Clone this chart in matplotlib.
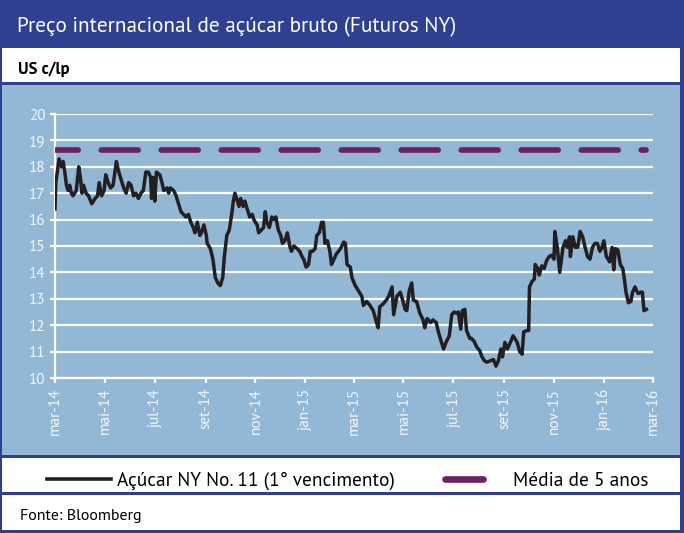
import matplotlib
matplotlib.use("Agg")
import matplotlib.pyplot as plt
from matplotlib.patches import Rectangle
from matplotlib.lines import Line2D
import pandas as pd

# ---------------- data ----------------
title = "Preço internacional de açúcar bruto (Futuros NY)"
unit_label = "US c/lp"
source_text = "Fonte: Bloomberg"
series_label = "Açúcar NY No. 11 (1° vencimento)"
mean_label = "Média de 5 anos"

start_date = "2014-03-01"
day_offsets = [
    0, 1, 5, 8, 10, 12, 14, 16, 18, 20, 22, 26, 29, 31, 33, 35, 38, 41, 45, 49,
    52, 54, 57, 60, 62, 65, 68, 71, 75, 78, 80, 84, 87, 90, 93, 96, 99, 102, 105, 108,
    111, 114, 117, 118, 120, 122, 124, 128, 130, 133, 137, 139, 141, 145, 148, 151, 154, 157, 160, 163,
    166, 169, 171, 174, 177, 179, 182, 185, 186, 190, 193, 196, 199, 202, 205, 207, 210, 213, 216, 218,
    220, 222, 225, 227, 230, 232, 235, 238, 241, 243, 247, 249, 252, 255, 257, 259, 262, 265, 268, 270,
    273, 276, 278, 281, 284, 287, 289, 292, 296, 299, 302, 304, 307, 310, 312, 315, 318, 320, 323, 326,
    328, 330, 333, 336, 338, 341, 344, 349,
    353, 355, 357, 361, 363, 367, 371, 375, 377, 381, 385, 389, 393, 395, 397, 401, 405, 408, 412, 414,
    418, 422, 425, 428, 430, 433, 436, 438, 442, 446, 450, 452, 455, 459, 462, 466, 469, 472, 475, 478,
    482, 485, 488, 491, 493, 496, 498, 501, 503, 507, 509, 512, 516, 519, 522, 525, 528, 532, 536, 539,
    542, 545, 547, 550, 553, 556, 560, 562, 565, 568, 571, 573, 577, 579, 580, 583, 586, 587, 590, 592,
    595, 598, 601, 604, 607, 610, 611, 614, 617, 621, 624, 626, 629, 630, 633, 636, 639, 642, 645, 648,
    651, 654, 657, 660, 663, 666, 668, 671, 674, 678, 681, 683, 685, 688, 691, 694, 696, 698, 701, 704,
    706, 709, 711, 713, 716, 718, 720, 723,
]
prices = [
    16.4, 17.4, 18.3, 18.0, 18.2, 17.8, 17.3, 17.1, 17.3, 17.0, 16.9, 17.1, 18.0, 17.6, 17.0, 17.3, 17.0, 16.9, 16.6, 16.8,
    16.9, 17.4, 16.9, 17.1, 17.7, 17.4, 17.2, 17.3, 18.2, 17.8, 17.6, 17.2, 17.0, 17.4, 17.3, 16.9, 17.0, 16.8, 17.0, 17.1,
    17.8, 17.8, 17.6, 16.8, 17.6, 16.7, 17.8, 17.7, 17.5, 17.1, 17.2, 17.0, 17.2, 17.1, 16.9, 16.6, 16.3, 16.2, 16.1, 16.2,
    15.9, 15.7, 15.5, 15.9, 15.4, 15.5, 15.8, 15.4, 15.1, 14.9, 14.5, 13.8, 13.6, 13.5, 13.8, 14.6, 15.4, 15.6, 16.2, 16.7,
    17.0, 16.8, 16.5, 16.8, 16.5, 16.7, 16.4, 16.1, 16.2, 16.0, 15.8, 15.5, 15.6, 15.7, 16.3, 15.9, 15.7, 16.1, 16.0, 16.1,
    15.6, 15.4, 15.1, 15.2, 15.5, 15.0, 14.8, 15.0, 14.9, 14.8, 14.6, 14.5, 14.2, 14.3, 14.8, 14.8, 14.9, 15.4, 15.5, 15.9,
    15.9, 15.1, 15.2, 14.8, 14.3, 14.5, 14.7, 14.9,
    15.15, 15.1, 14.3, 14.2, 13.8, 13.5, 13.3, 13.1, 12.75, 12.9, 12.75, 12.55, 12.1, 11.9, 12.7, 12.8, 12.95, 13.1, 13.45, 12.4,
    13.1, 13.25, 12.95, 12.6, 12.55, 13.3, 13.6, 12.95, 12.9, 12.45, 12.2, 11.9, 12.25, 12.1, 12.2, 12.1, 11.7, 11.4, 11.1, 11.35,
    11.6, 12.4, 12.5, 12.45, 12.5, 11.85, 12.55, 12.6, 11.8, 11.5, 11.5, 11.4, 11.15, 11.05, 10.8, 10.65, 10.6, 10.65, 10.7, 10.45,
    10.65, 11.1, 10.8, 11.35, 11.1, 11.3, 11.6, 11.5, 11.35, 11.0, 10.9, 11.75, 11.8, 11.8, 13.45, 13.65, 13.75, 14.3, 14.15, 13.9,
    14.25, 14.15, 14.45, 14.6, 14.65, 14.5, 15.55, 14.95, 14.0, 14.95, 15.2, 14.95, 15.35, 14.6, 15.35, 14.95, 14.95, 15.55, 15.35, 14.95,
    14.6, 14.5, 14.95, 15.1, 15.1, 14.8, 14.9, 15.2, 14.6, 14.4, 14.95, 14.1, 14.9, 14.85, 14.3, 14.15, 13.75, 13.25, 12.85, 12.9,
    13.25, 13.45, 13.3, 13.2, 13.25, 13.25, 12.55, 12.6,
]
mean_5y = 18.65

x_start = "2014-03-01"
x_end = "2016-03-01"
tick_dates = ["2014-03-01", "2014-05-01", "2014-07-01", "2014-09-01", "2014-11-01",
              "2015-01-01", "2015-03-01", "2015-05-01", "2015-07-01", "2015-09-01",
              "2015-11-01", "2016-01-01", "2016-03-01"]
tick_labels = ["mar-14", "mai-14", "jul-14", "set-14", "nov-14", "jan-15", "mar-15",
               "mai-15", "jul-15", "set-15", "nov-15", "jan-16", "mar-16"]
y_ticks = [10, 11, 12, 13, 14, 15, 16, 17, 18, 19, 20]

# ---------------- style ----------------
DARK = "#2e408f"
PANEL = "#93b8d5"
PURPLE = "#6c2163"
LINE = "#231f20"
REG = ["PT Sans", "DejaVu Sans"]
plt.rcParams["lines.scale_dashes"] = False

W, H = 684, 533
fig = plt.figure(figsize=(W / 100, H / 100), dpi=100)
fig.patch.set_facecolor(DARK)


def fx(x):
    return x / W


def fy(y):
    return 1 - y / H


def band(x0, y0, x1, y1, color):
    fig.add_artist(Rectangle((fx(x0), fy(y1)), fx(x1) - fx(x0), (y1 - y0) / H,
                             transform=fig.transFigure, facecolor=color,
                             edgecolor="none", zorder=0))


band(2, 48, 680, 82, "white")
band(2, 85, 680, 455, PANEL)
band(2, 458, 680, 492, "white")
band(2, 495, 680, 530, "white")

fig.text(fx(17), fy(32), title, color="white", fontsize=15.3, family=REG, va="baseline")
fig.text(fx(18), fy(74), unit_label, color="black", fontsize=12, family=REG,
         fontweight="bold", va="baseline")

# ---------------- axes ----------------
ax = fig.add_axes([fx(55), fy(378), fx(653) - fx(55), (378 - 114) / H])
ax.set_facecolor("none")

dates = pd.to_datetime(start_date) + pd.to_timedelta(day_offsets, unit="D")
ax.plot(dates, prices, color=LINE, lw=2.5, solid_joinstyle="round", zorder=3)
ax.plot([dates[0], dates[-1]], [mean_5y, mean_5y], color=PURPLE, lw=4.1,
        linestyle=(9.9, (26.6, 16.6)), dash_capstyle="round", zorder=3)

ax.set_xlim(pd.to_datetime(x_start), pd.to_datetime(x_end))
ax.set_ylim(y_ticks[0], y_ticks[-1])
ax.set_yticks(y_ticks)
ax.set_xticks(pd.to_datetime(tick_dates))
ax.set_xticklabels(tick_labels, rotation=90, va="top", ha="center")
ax.grid(axis="y", color="white", lw=1.6, zorder=1)
ax.set_axisbelow(True)
for s in ["top", "right"]:
    ax.spines[s].set_visible(False)
for s in ["left", "bottom"]:
    ax.spines[s].set_color("white")
    ax.spines[s].set_linewidth(1.6)
ax.tick_params(axis="both", colors="white", length=3.6, width=1.6, pad=3.5,
               labelsize=11, labelcolor="#f4f7fa")
for lab in ax.get_xticklabels() + ax.get_yticklabels():
    lab.set_family(REG)

# ---------------- legend ----------------
fig.add_artist(Line2D([fx(47), fx(111)], [fy(479), fy(479)], color=LINE, lw=2.6,
                      transform=fig.transFigure))
fig.text(fx(117), fy(486), series_label, color="black", fontsize=13.9, family=REG,
         va="baseline")
fig.add_artist(Line2D([fx(445), fx(483)], [fy(479), fy(479)], color=PURPLE, lw=4.8,
                      solid_capstyle="round", transform=fig.transFigure))
fig.text(fx(513), fy(486), mean_label, color="black", fontsize=13.9, family=REG,
         va="baseline")

fig.text(fx(20), fy(520), source_text, color="black", fontsize=11.5, family=REG,
         va="baseline")

fig.savefig("out.png", dpi=100, facecolor=fig.get_facecolor())
